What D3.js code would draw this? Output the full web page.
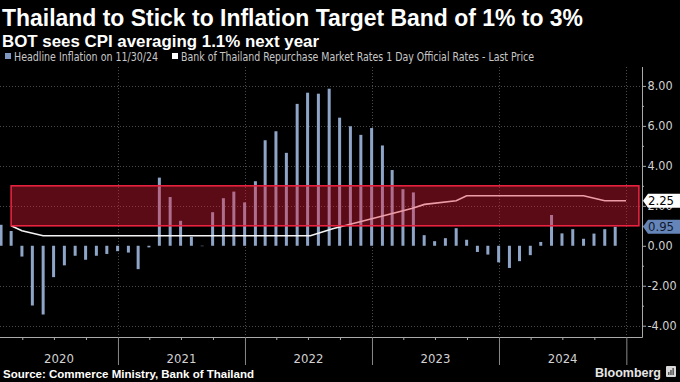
<!DOCTYPE html>
<html><head><meta charset="utf-8">
<script src="https://cdn.jsdelivr.net/npm/d3@7"></script>
<style>
body{margin:0;background:#000;}
svg{display:block;background:#000;}
</style></head><body>
<svg id="c" width="680" height="382"></svg>
<script>
const title = "Thailand to Stick to Inflation Target Band of 1% to 3%";
const subtitle = "BOT sees CPI averaging 1.1% next year";
const legendLabels = ["Headline Inflation on 11/30/24", "Bank of Thailand Repurchase Market Rates 1 Day Official Rates - Last Price"];
const sourceText = "Source: Commerce Ministry, Bank of Thailand";
const brand = "Bloomberg";

const months = [
  "2020-01","2020-02","2020-03","2020-04","2020-05","2020-06","2020-07","2020-08","2020-09","2020-10","2020-11","2020-12",
  "2021-01","2021-02","2021-03","2021-04","2021-05","2021-06","2021-07","2021-08","2021-09","2021-10","2021-11","2021-12",
  "2022-01","2022-02","2022-03","2022-04","2022-05","2022-06","2022-07","2022-08","2022-09","2022-10","2022-11","2022-12",
  "2023-01","2023-02","2023-03","2023-04","2023-05","2023-06","2023-07","2023-08","2023-09","2023-10","2023-11","2023-12",
  "2024-01","2024-02","2024-03","2024-04","2024-05","2024-06","2024-07","2024-08","2024-09","2024-10","2024-11"
];
const inflation = [
  1.05, 0.74, -0.54, -2.99, -3.44, -1.57, -0.98, -0.50, -0.70, -0.50, -0.41, -0.27,
  -0.34, -1.17, -0.08, 3.41, 2.44, 1.25, 0.45, -0.02, 1.68, 2.38, 2.71, 2.17,
  3.23, 5.28, 5.73, 4.65, 7.10, 7.66, 7.61, 7.86, 6.41, 5.98, 5.55, 5.89,
  5.02, 3.79, 2.83, 2.67, 0.53, 0.23, 0.38, 0.88, 0.30, -0.31, -0.44, -0.83,
  -1.11, -0.77, -0.47, 0.19, 1.54, 0.62, 0.83, 0.35, 0.61, 0.83, 0.95
];
const rateDates = ["2020-02-29","2020-03-31","2020-05-31","2022-07-08","2022-09-10","2023-03-20","2023-04-25","2023-06-01","2023-08-31","2023-09-30","2024-08-31","2024-10-31","2024-12-31"];
const rateValues = [1.00, 0.75, 0.50, 0.50, 0.85, 1.70, 1.87, 2.07, 2.25, 2.50, 2.50, 2.25, 2.25];
const bandValues = [1, 3];
const bandDates = ["2020-02-29", "2025-02-06"];
const yTicks = [-4, -2, 0, 2, 4, 6, 8];
const yMinorTicks = [-3, -1, 1, 3, 5, 7];
const years = ["2020", "2021", "2022", "2023", "2024", "2025"];
const yearLabels = ["2020", "2021", "2022", "2023", "2024"];
const lastValues = [2.25, 0.95];

const W = 680, H = 382;
const plot = {left: 0, right: 642, top: 67, bottom: 337};
const parseDay = d3.utcParse("%Y-%m-%d");
const parseMonth = d3.utcParse("%Y-%m");
const monthEnd = m => d3.utcDay.offset(d3.utcMonth.offset(parseMonth(m), 1), -1);
const fmt = d3.formatLocale({decimal: ".", thousands: ",", grouping: [3], currency: ["", ""], minus: "-"}).format(".2f");

const x = d3.scaleUtc().domain([parseDay("2020-01-28"), parseDay("2025-02-15")]).range([plot.left, plot.right]);
const y = d3.scaleLinear().domain([-4, 8]).range([325.7, 85.9]);

const svg = d3.select("#c");
const NARROW = "'Liberation Sans Narrow','DejaVu Sans Condensed','Arial Narrow',sans-serif";

// title + subtitle
svg.append("text").attr("x", 2).attr("y", 26).text(title)
  .attr("fill", "#fff").attr("font-family", "'Liberation Sans',Arial,sans-serif").attr("font-weight", "bold")
  .attr("font-size", 23.5).attr("textLength", 581).attr("lengthAdjust", "spacingAndGlyphs");
svg.append("text").attr("x", 2).attr("y", 47).text(subtitle)
  .attr("fill", "#fff").attr("font-family", "'Liberation Sans',Arial,sans-serif").attr("font-weight", "bold")
  .attr("font-size", 16.5).attr("textLength", 317).attr("lengthAdjust", "spacingAndGlyphs");

// legend
const legend = svg.append("g");
legend.append("rect").attr("x", 5).attr("y", 53).attr("width", 6).attr("height", 6).attr("fill", "#7d97c0");
legend.append("text").attr("x", 14).attr("y", 61).text(legendLabels[0])
  .attr("fill", "#c8c8c8").attr("font-family", NARROW).attr("font-size", 11.5)
  .attr("textLength", 144).attr("lengthAdjust", "spacingAndGlyphs");
legend.append("rect").attr("x", 172).attr("y", 53).attr("width", 6).attr("height", 6).attr("fill", "#fff");
legend.append("text").attr("x", 181).attr("y", 61).text(legendLabels[1])
  .attr("fill", "#c8c8c8").attr("font-family", NARROW).attr("font-size", 11.5)
  .attr("textLength", 353).attr("lengthAdjust", "spacingAndGlyphs");

// gridlines
const grid = svg.append("g").attr("stroke", "#4a4a4a").attr("stroke-width", 1).attr("stroke-dasharray", "1,2");
grid.selectAll("line.h").data(yTicks.filter(d => d !== 0)).join("line").attr("class", "h")
  .attr("x1", plot.left).attr("x2", plot.right).attr("y1", d => Math.round(y(d)) + 0.5).attr("y2", d => Math.round(y(d)) + 0.5);
const yearDates = years.slice(1).map(s => parseDay(s + "-01-01"));
grid.selectAll("line.v").data(yearDates).join("line").attr("class", "v")
  .attr("y1", plot.top).attr("y2", plot.bottom).attr("x1", d => Math.round(x(d)) + 0.5).attr("x2", d => Math.round(x(d)) + 0.5);

// bars
const barW = 3;
svg.append("g").selectAll("rect").data(months).join("rect")
  .attr("x", m => x(monthEnd(m)) - barW / 2)
  .attr("width", barW)
  .attr("y", (m, i) => y(Math.max(0, inflation[i])))
  .attr("height", (m, i) => Math.abs(y(inflation[i]) - y(0)))
  .attr("fill", "#8ea5c8");

// rate line
const line = d3.line().x(d => x(parseDay(d[0]))).y(d => y(d[1]));
svg.append("path").datum(rateDates.map((d, i) => [d, rateValues[i]]))
  .attr("d", line).attr("fill", "none").attr("stroke", "#f4f4f4").attr("stroke-width", 1.6);

// target band
const bx0 = x(parseDay(bandDates[0])), bx1 = x(parseDay(bandDates[1]));
svg.append("rect").attr("x", bx0).attr("width", bx1 - bx0)
  .attr("y", y(bandValues[1])).attr("height", y(bandValues[0]) - y(bandValues[1]))
  .attr("fill", "rgb(226,28,56)").attr("fill-opacity", 0.4)
  .attr("stroke", "#e8223f").attr("stroke-width", 1.6);

// right axis
const axR = svg.append("g").attr("transform", `translate(${plot.right},0)`)
  .call(d3.axisRight(y).tickValues(yTicks).tickFormat(fmt).tickSize(4).tickPadding(1.5));
axR.select(".domain").remove();
axR.selectAll("line").attr("stroke", "#aaa");
axR.selectAll("text").attr("fill", "#d2d2d2").attr("font-family", NARROW).attr("font-size", 12.5);
const axRm = svg.append("g").attr("transform", `translate(${plot.right},0)`)
  .call(d3.axisRight(y).tickValues(yMinorTicks).tickFormat("").tickSize(2));
axRm.select(".domain").remove();
axRm.selectAll("line").attr("stroke", "#aaa");
svg.append("line").attr("x1", plot.right + 0.5).attr("x2", plot.right + 0.5).attr("y1", plot.top).attr("y2", plot.bottom + 0.5)
  .attr("stroke", "#aaa");

// bottom axis
svg.append("line").attr("x1", plot.left).attr("x2", plot.right + 0.5).attr("y1", plot.bottom + 0.5).attr("y2", plot.bottom + 0.5)
  .attr("stroke", "#aaa");
const quarterTicks = x.ticks(d3.utcMonth.every(3)).filter(d => d.getUTCMonth() !== 0);
const axB = svg.append("g").attr("transform", `translate(0,${plot.bottom})`)
  .call(d3.axisBottom(x).tickValues(quarterTicks).tickFormat("").tickSize(3));
axB.select(".domain").remove();
axB.selectAll("line").attr("stroke", "#aaa");
const axY = svg.append("g").attr("transform", `translate(0,${plot.bottom})`)
  .call(d3.axisBottom(x).tickValues(yearDates).tickFormat("").tickSize(28));
axY.select(".domain").remove();
axY.selectAll("line").attr("stroke", "#888");

// year labels centred in their visible span
svg.append("g").selectAll("text").data(yearLabels).join("text")
  .attr("x", s => {
    const a = Math.max(plot.left, x(parseDay(s + "-01-01")));
    const b = Math.min(plot.right, x(parseDay((+s + 1) + "-01-01")));
    return (a + b) / 2;
  })
  .attr("y", 363).attr("text-anchor", "middle").text(s => s)
  .attr("fill", "#d2d2d2").attr("font-family", NARROW).attr("font-size", 13);

// last value labels
const lastStyles = [{fill: "#ffffff", text: "#000"}, {fill: "#6585b9", text: "#0f1a2e"}];
lastValues.forEach((v, i) => {
  const yy = y(v);
  svg.append("path")
    .attr("d", `M${plot.right + 1},${yy} L${plot.right + 6},${yy - 7} L${W},${yy - 7} L${W},${yy + 7} L${plot.right + 6},${yy + 7} Z`)
    .attr("fill", lastStyles[i].fill);
  svg.append("text").attr("x", plot.right + 6).attr("y", yy + 4.5).text(fmt(v))
    .attr("fill", lastStyles[i].text).attr("font-family", NARROW).attr("font-size", 13);
});

// footer
svg.append("text").attr("x", 3).attr("y", 378).text(sourceText)
  .attr("fill", "#fff").attr("font-family", "'Liberation Sans',Arial,sans-serif").attr("font-weight", "bold")
  .attr("font-size", 11.5).attr("textLength", 251).attr("lengthAdjust", "spacingAndGlyphs");
svg.append("text").attr("x", 595).attr("y", 377).text(brand)
  .attr("fill", "#e6e6e6").attr("font-family", "'Liberation Sans',Arial,sans-serif").attr("font-weight", "bold")
  .attr("font-size", 13).attr("textLength", 66).attr("lengthAdjust", "spacingAndGlyphs");
const icon = svg.append("g").attr("transform", "translate(666,366)");
icon.append("rect").attr("width", 10).attr("height", 11).attr("rx", 1).attr("fill", "#d8d8d8");
[[2, 6, 1.5], [4.2, 4, 1.5], [6.4, 2, 1.5]].forEach(b => {
  icon.append("rect").attr("x", b[0]).attr("y", b[1]).attr("width", b[2]).attr("height", 9 - b[1]).attr("fill", "#555");
});
</script>
</body></html>
